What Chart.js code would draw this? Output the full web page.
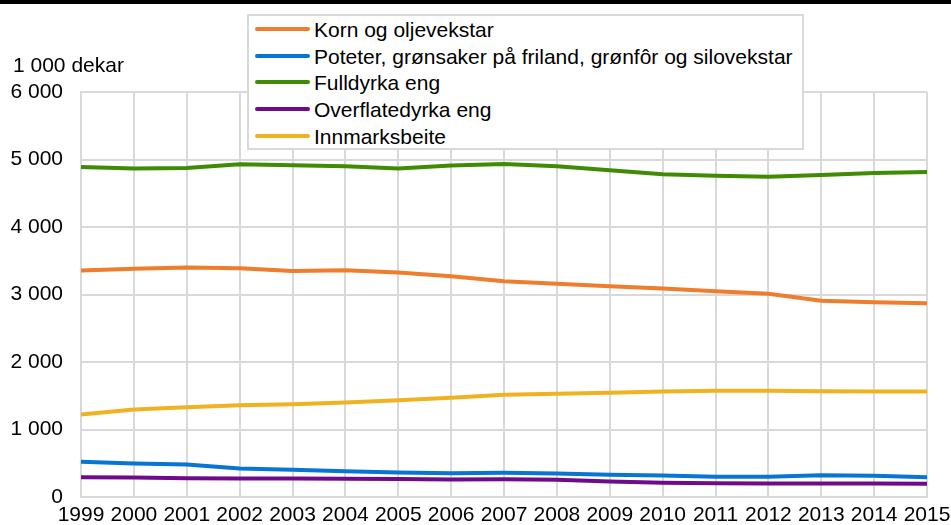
<!DOCTYPE html>
<html>
<head>
<meta charset="utf-8">
<script src="https://cdn.jsdelivr.net/npm/chart.js@4/dist/chart.umd.min.js"></script>
<style>
  body { margin: 0; background: #fff; }
  #wrap { position: relative; width: 951px; height: 525px; font-family: "Liberation Sans", Arial, sans-serif; }
  #topbar { position: absolute; left: 0; top: 0; width: 951px; height: 4px; background: #000; }
  #ytitle { position: absolute; left: 13px; top: 54px; font-size: 21px; line-height: 21px; color: #000; white-space: nowrap; }
  #legend { position: absolute; left: 247px; top: 14px; width: 553px; height: 132px; border: 2px solid #d9d9d9; background: #fff; }
  .item { position: absolute; left: 0; height: 21px; font-size: 21px; line-height: 21px; color: #000; white-space: nowrap; }
  .swatch { position: absolute; left: 6px; top: 8px; width: 55px; height: 4px; border-radius: 2px; }
  .label { position: absolute; left: 65px; top: 0; }
</style>
</head>
<body>
<div id="wrap">
  <canvas id="chart"></canvas>
  <div id="topbar"></div>
  <div id="ytitle">1 000 dekar</div>
  <div id="legend"></div>
</div>
<script>
const years = ["1999", "2000", "2001", "2002", "2003", "2004", "2005", "2006", "2007",
  "2008", "2009", "2010", "2011", "2012", "2013", "2014", "2015"];

const korn = [3356, 3380, 3400, 3390, 3350, 3360, 3326, 3270, 3197, 3158, 3123, 3089, 3049, 3010, 2907, 2886, 2871];
const poteter = [521, 496, 481, 422, 403, 382, 363, 353, 358, 348, 329, 319, 299, 299, 323, 314, 293];
const fulldyrka = [4890, 4865, 4875, 4930, 4915, 4900, 4865, 4910, 4935, 4900, 4840, 4780, 4760, 4745, 4770, 4800, 4815];
const overflate = [293, 289, 279, 274, 274, 270, 265, 259, 264, 255, 230, 210, 205, 200, 200, 200, 195];
const innmark = [1222, 1296, 1330, 1360, 1375, 1400, 1434, 1470, 1514, 1529, 1543, 1563, 1573, 1573, 1568, 1563, 1563];

const yTicks = [0, 1000, 2000, 3000, 4000, 5000, 6000];

const gridColor = "#d9d9d9";

function fmt(v) {
  return String(v).replace(/\B(?=(\d{3})+(?!\d))/g, " ");
}

function series(label, data, color) {
  return {
    label: label,
    data: data,
    borderColor: color,
    backgroundColor: color,
    borderWidth: 4,
    pointRadius: 0,
    tension: 0,
    fill: false
  };
}

const chart = new Chart(document.getElementById("chart"), {
  type: "line",
  data: {
    labels: years,
    datasets: [
      series("Korn og oljevekstar", korn, "#ee7d2d"),
      series("Poteter, grønsaker på friland, grønfôr og silovekstar", poteter, "#0775d3"),
      series("Fulldyrka eng", fulldyrka, "#3f8b04"),
      series("Overflatedyrka eng", overflate, "#6f0a8c"),
      series("Innmarksbeite", innmark, "#efb322")
    ]
  },
  options: {
    responsive: true,
    maintainAspectRatio: false,
    animation: false,
    layout: { padding: { left: 0, top: 92, right: 24, bottom: 0 } },
    plugins: {
      legend: { display: false },
      tooltip: { enabled: false }
    },
    scales: {
      x: {
        offset: false,
        grid: { color: gridColor, lineWidth: 2, drawTicks: false },
        border: { color: gridColor, width: 2 },
        ticks: {
          color: "#000",
          font: { family: "'Liberation Sans', Arial, sans-serif", size: 21 },
          padding: 6,
          maxRotation: 0,
          autoSkip: false
        },
        afterFit: function (axis) {
          axis.height = 28;
          axis.paddingLeft = 0;
          axis.paddingRight = 0;
        }
      },
      y: {
        min: 0,
        max: 6000,
        afterBuildTicks: function (axis) {
          axis.ticks = yTicks.map(v => ({ value: v }));
        },
        grid: { color: gridColor, lineWidth: 2, drawTicks: false },
        border: { color: gridColor, width: 2 },
        ticks: {
          color: "#000",
          font: { family: "'Liberation Sans', Arial, sans-serif", size: 21 },
          padding: 18,
          callback: function (v) { return fmt(v); }
        },
        afterFit: function (axis) {
          axis.width = 81;
          axis.paddingTop = 0;
          axis.paddingBottom = 0;
        }
      }
    }
  }
});

// legend built from the chart's datasets
const legend = document.getElementById("legend");
chart.data.datasets.forEach(function (ds, i) {
  const row = document.createElement("div");
  row.className = "item";
  row.style.top = (3 + i * 26.7) + "px";
  const sw = document.createElement("div");
  sw.className = "swatch";
  sw.style.background = ds.borderColor;
  const lb = document.createElement("div");
  lb.className = "label";
  lb.textContent = ds.label;
  row.appendChild(sw);
  row.appendChild(lb);
  legend.appendChild(row);
});
</script>
</body>
</html>
